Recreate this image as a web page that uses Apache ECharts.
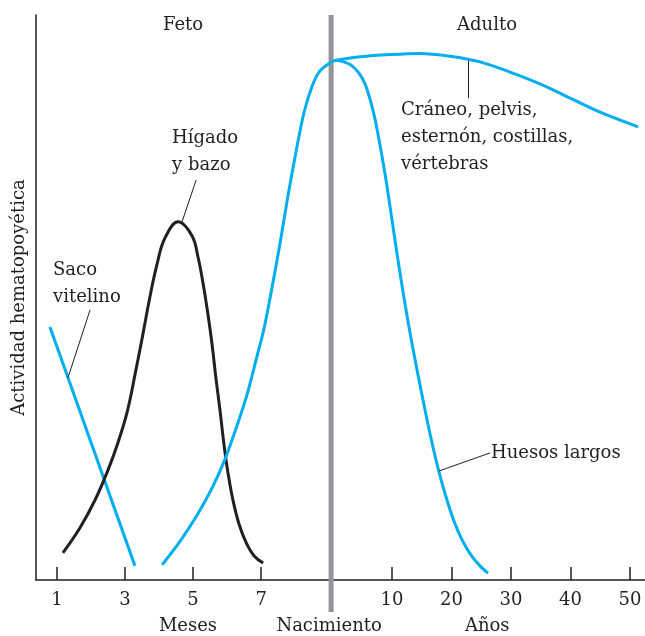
<!DOCTYPE html>
<html><head><meta charset="utf-8">
<script src="https://cdn.jsdelivr.net/npm/echarts@6/dist/echarts.min.js"></script>
<style>html,body{margin:0;padding:0;background:#fff}#c{width:645px;height:636px}</style>
</head><body><div id="c"></div>
<script>
// ---- axis ticks ----
const monthTicks = [1, 3, 5, 7];
const yearTicks = [10, 20, 30, 40, 50];
const tickLabels = ['1', '3', '5', '7', '10', '20', '30', '40', '50'];
const periodLabels = ['Meses', 'Nacimiento', 'Años'];
const mesesLabelMonth = 4.85;
const anosLabelYear = 26;
const BIRTH = 9; // months from conception

// ---- series data ----
const sacoMonths = [0.79, 3.29];
const sacoValues = [44.8, 2.5];

const higadoMonths = [1.17, 1.67, 2.12, 2.50, 2.79, 3.06, 3.29, 3.53, 3.73, 3.94, 4.17, 4.56,
  4.97, 5.14, 5.29, 5.44, 5.56, 5.67, 5.79, 5.91, 6.03, 6.17, 6.35, 6.56, 6.79, 7.06];
const higadoValues = [4.8, 9.2, 14.2, 19.5, 24.3, 29.7, 36.3, 43.7, 50.1, 55.9, 60.5, 63.4,
  60.9, 57.3, 52.6, 46.9, 41.6, 35.8, 30.1, 23.9, 18.8, 14.2, 9.9, 6.6, 4.3, 3.0];

const huesosFetalMonths = [4.09, 4.62, 5.12, 5.56, 5.94, 6.29, 6.59, 6.85, 7.09, 7.32, 7.56, 7.79, 8.03, 8.26, 8.50, 8.73, 8.97];
const huesosFetalValues = [2.7, 6.9, 11.5, 16.3, 21.4, 27.3, 32.9, 38.9, 44.6, 51.7, 59.7, 68.0, 75.9, 82.7, 87.4, 90.1, 91.3];
const huesosYears = [0.59, 1.93, 3.28, 4.45, 5.46, 6.30, 7.14, 7.98, 8.99, 10.0, 11.01, 12.02, 13.19, 14.37,
  15.55, 16.72, 17.90, 19.08, 20.42, 21.77, 23.28, 24.79, 26.13];
const huesosYearValues = [92.0, 91.7, 91.0, 89.7, 87.8, 85.1, 81.6, 77.0, 70.8, 63.7, 56.6, 49.9, 42.8, 36.3,
  30.1, 24.3, 19.1, 14.7, 10.4, 7.1, 4.4, 2.5, 1.2];

const craneoYears = [0.59, 4.62, 9.66, 14.71, 19.75, 24.79, 29.83, 34.87, 39.92, 44.96, 51.35];
const craneoValues = [92.0, 92.6, 93.0, 93.2, 92.7, 91.7, 89.9, 87.8, 85.3, 82.8, 80.2];

// ---- scale: months before birth, compressed years after ----
const uMonth = m => m;
const uYear = y => 9.1 + 0.175 * y;

const tickPos = monthTicks.map(uMonth).concat(yearTicks.map(uYear));
const periodPos = [uMonth(mesesLabelMonth), BIRTH, uYear(anosLabelYear)];

const BLUE = '#00aeef', INK = '#231f20', GRAY = '#939598';
const FONT = 'DejaVu Serif';
const FS = 18;

const zip = (xs, ys, f) => xs.map((x, i) => [f(x), ys[i]]);
const leader = (a, b) => ({
  silent: true, symbol: 'none', label: {show: false},
  lineStyle: {color: INK, width: 1, type: 'solid'},
  data: [[{coord: a}, {coord: b}]]
});
const nearest = (arr, v) => { let best = 0; arr.forEach((p, i) => { if (Math.abs(p - v) < Math.abs(arr[best] - v)) best = i; }); return best; };

const chart = echarts.init(document.getElementById('c'), null, {renderer: 'canvas'});
const XMIN = 0.38, XMAX = 18.29;

chart.setOption({
  animation: false,
  backgroundColor: '#fff',
  grid: {left: 36, right: 0, top: 15, bottom: 56},
  xAxis: [{
    type: 'value', min: XMIN, max: XMAX,
    splitLine: {show: false},
    axisLine: {show: true, lineStyle: {color: INK, width: 1.5}},
    axisTick: {show: true, inside: true, length: 13, customValues: tickPos, lineStyle: {color: INK, width: 1.5}},
    axisLabel: {
      show: true, margin: 11, customValues: tickPos,
      fontFamily: FONT, fontSize: FS, color: INK,
      formatter: v => tickLabels[nearest(tickPos, v)]
    }
  }, {
    type: 'value', min: XMIN, max: XMAX, position: 'bottom', offset: 26,
    splitLine: {show: false}, axisLine: {show: false}, axisTick: {show: false},
    axisLabel: {
      show: true, margin: 11, customValues: periodPos,
      fontFamily: FONT, fontSize: FS, color: INK,
      formatter: v => periodLabels[nearest(periodPos, v)]
    }
  }],
  yAxis: {
    type: 'value', min: 0, max: 100,
    name: 'Actividad hematopoyética', nameLocation: 'middle', nameGap: 8, nameRotate: 90,
    nameTextStyle: {fontFamily: FONT, fontSize: FS, color: INK},
    splitLine: {show: false}, axisTick: {show: false}, axisLabel: {show: false},
    axisLine: {show: true, lineStyle: {color: INK, width: 1.5}}
  },
  series: [
    {
      name: 'Saco vitelino', type: 'line', showSymbol: false, z: 3,
      data: zip(sacoMonths, sacoValues, uMonth),
      lineStyle: {color: BLUE, width: 3},
      markLine: leader([uMonth(1.97), 47.8], [uMonth(1.32), 35.8])
    },
    {
      name: 'Hígado y bazo', type: 'line', showSymbol: false, smooth: 0.4, z: 3,
      data: zip(higadoMonths, higadoValues, uMonth),
      lineStyle: {color: INK, width: 3},
      markLine: leader([uMonth(5.09), 70.8], [uMonth(4.67), 63.3])
    },
    {
      name: 'Huesos largos', type: 'line', showSymbol: false, smooth: 0.3, z: 3,
      data: zip(huesosFetalMonths, huesosFetalValues, uMonth).concat(zip(huesosYears, huesosYearValues, uYear)),
      lineStyle: {color: BLUE, width: 3},
      markLine: leader([uYear(26.5), 22.5], [uYear(17.9), 19.3])
    },
    {
      name: 'Cráneo', type: 'line', showSymbol: false, smooth: 0.3, z: 3,
      data: zip(craneoYears, craneoValues, uYear),
      lineStyle: {color: BLUE, width: 3},
      markLine: leader([uYear(22.8), 91.9], [uYear(22.8), 85.3])
    }
  ]
});

// birth divider and region / curve labels
const bx = chart.convertToPixel({xAxisIndex: 0}, BIRTH) + 2;
const topY = chart.convertToPixel({yAxisIndex: 0}, 100);
const txt = (text, x, y, align) => ({
  type: 'text', x: x, y: y, z: 10,
  style: {text: text, fontFamily: FONT, fontSize: FS, fill: INK, align: align || 'left', verticalAlign: 'middle', lineHeight: 27}
});
chart.setOption({
  graphic: [
    {type: 'line', z: 1, shape: {x1: bx, y1: topY, x2: bx, y2: 612}, style: {stroke: GRAY, lineWidth: 5}},
    txt('Feto', 183, 25, 'center'),
    txt('Adulto', 487, 25, 'center'),
    txt('Hígado\ny bazo', 172, 152),
    txt('Saco\nvitelino', 53, 284),
    txt('Cráneo, pelvis,\nesternón, costillas,\nvértebras', 401, 137),
    txt('Huesos largos', 491, 453)
  ]
});
</script></body></html>
